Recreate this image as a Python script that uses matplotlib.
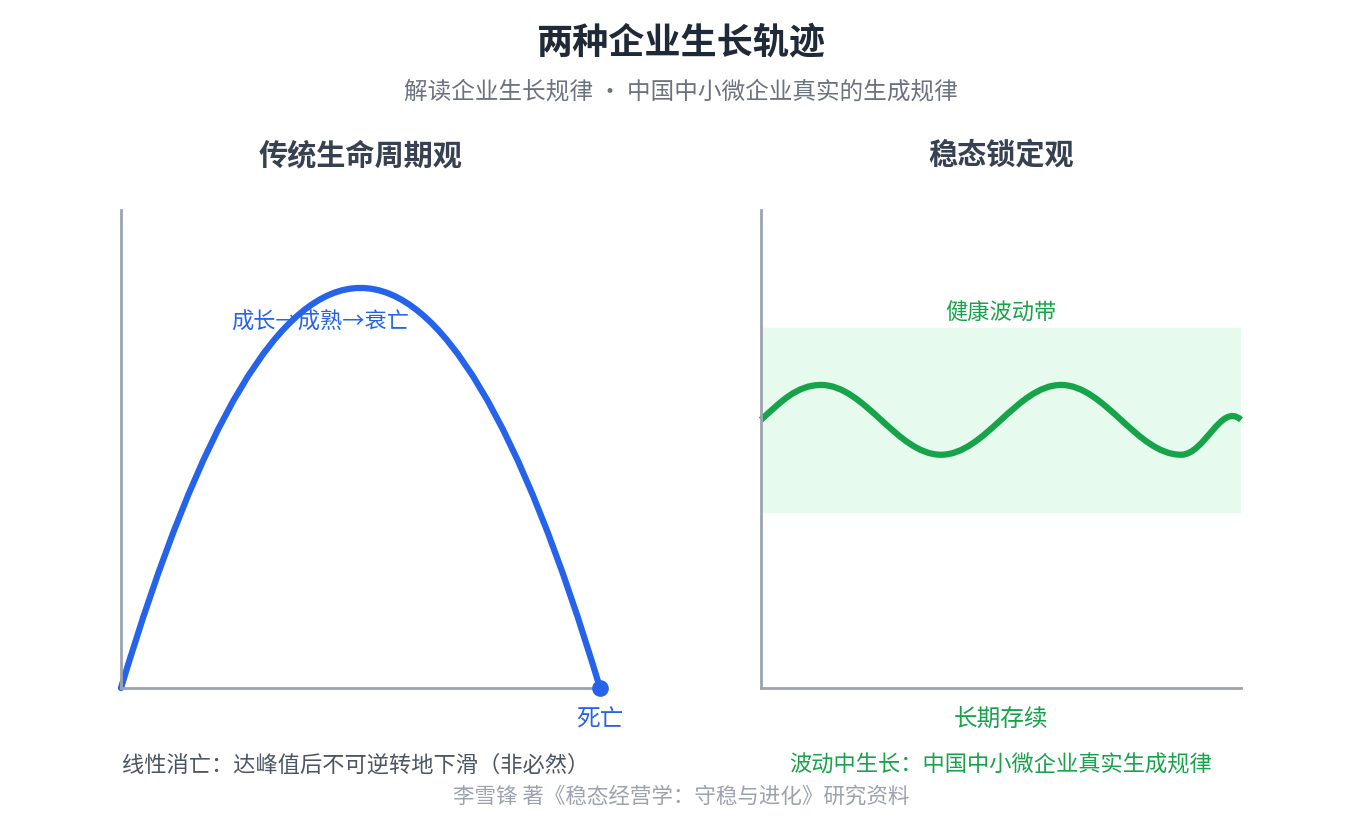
import matplotlib
matplotlib.use("Agg")
import matplotlib.pyplot as plt
from matplotlib.path import Path
from matplotlib.patches import PathPatch

plt.rcParams['font.family'] = ['Noto Sans CJK SC', 'DejaVu Sans']

# Left: lifecycle curve (x in 0..10, y in 0..100): start, peak, end
life_x = [0, 5, 10]
life_y = [0, 83.7, 0]
# Right: steady wave extrema (x in 0..480)
wave_x = [0, 60, 180, 300, 420, 480]
wave_y = [56.1, 63.4, 48.8, 63.4, 48.8, 56.1]
band = (36.8, 75.3)

BLUE = '#2563eb'
GREEN = '#16a34a'
GRAY = '#9ca3af'

W, H = 1360, 830
fig = plt.figure(figsize=(13.6, 8.3), dpi=100)

def axrect(x0, y0, x1, y1):
    return [x0 / W, 1 - y1 / H, (x1 - x0) / W, (y1 - y0) / H]

def style(ax):
    for s in ['top', 'right']:
        ax.spines[s].set_visible(False)
    for s in ['left', 'bottom']:
        ax.spines[s].set_color(GRAY)
        ax.spines[s].set_linewidth(2)
    ax.set_xticks([]); ax.set_yticks([])
    ax.set_ylim(0, 100)

axL = fig.add_axes(axrect(121, 210, 600, 688))
style(axL)
axL.set_xlim(0, 10)
# quadratic Bezier through the peak (control at twice peak height)
ctrl = 2 * life_y[1] - (life_y[0] + life_y[2]) / 2
pL = Path([(life_x[0], life_y[0]), (life_x[1], ctrl), (life_x[2], life_y[2])],
          [Path.MOVETO, Path.CURVE3, Path.CURVE3])
axL.add_patch(PathPatch(pL, fill=False, edgecolor=BLUE, lw=4.5, capstyle='round', clip_on=False))
axL.plot([life_x[-1]], [life_y[-1]], 'o', color=BLUE, ms=11, clip_on=False, zorder=5)

axR = fig.add_axes(axrect(761, 210, 1241, 688))
style(axR)
axR.set_xlim(0, 480)
axR.axhspan(band[0], band[1], color='#e6fbee', zorder=0)
verts = [(wave_x[0], wave_y[0])]
codes = [Path.MOVETO]
amp = (wave_y[1] - wave_y[2]) / 2
for i in range(len(wave_x) - 1):
    x0, y0, x1, y1 = wave_x[i], wave_y[i], wave_x[i + 1], wave_y[i + 1]
    L = x1 - x0
    if i == 0:
        c1 = (x0 + L / 3, y0 + (L / 3) * amp * 6.2832 / 240)
        c2 = (x1 - 0.4 * L, y1)
    elif i == len(wave_x) - 2:
        c1 = (x0 + 0.4 * L, y0)
        c2 = (x1 - L / 3, y1 + (L / 3) * amp * 6.2832 / 240)
    else:
        c1 = (x0 + 0.364 * L, y0)
        c2 = (x1 - 0.364 * L, y1)
    verts += [c1, c2, (x1, y1)]
    codes += [Path.CURVE4] * 3
axR.add_patch(PathPatch(Path(verts, codes), fill=False, edgecolor=GREEN, lw=4.5, clip_on=False))

def t(x, y, s, **kw):
    fig.text(x / W, 1 - y / H, s, ha='center', va='center', **kw)

t(681, 43, '两种企业生长轨迹', fontsize=26, fontweight='bold', color='#1f2937')
t(681, 92, '解读企业生长规律 · 中国中小微企业真实的生成规律', fontsize=17, color='#6b7280')
t(361, 155, '传统生命周期观', fontsize=21, fontweight='bold', color='#374151')
t(1001, 155, '稳态锁定观', fontsize=21, fontweight='bold', color='#374151')
t(320, 322, '成长→成熟→衰亡', fontsize=16, color=BLUE)
t(1001, 313, '健康波动带', fontsize=16, color=GREEN)
t(600, 720, '死亡', fontsize=17, color=BLUE)
t(1001, 720, '长期存续', fontsize=17, color=GREEN)
t(356, 765, '线性消亡：达峰值后不可逆转地下滑（非必然）', fontsize=16, color='#4b5563')
t(1001, 765, '波动中生长：中国中小微企业真实生成规律', fontsize=16, color=GREEN)
t(681, 797, '李雪锋 著《稳态经营学：守稳与进化》研究资料', fontsize=15.5, color=GRAY)

fig.savefig('out.png', dpi=100)
